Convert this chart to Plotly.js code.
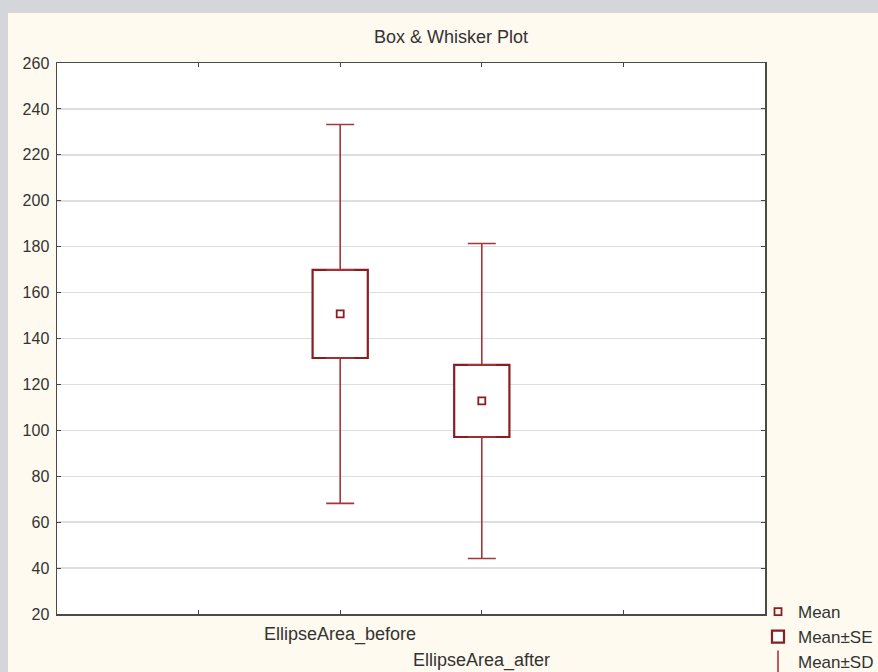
<!DOCTYPE html>
<html><head><meta charset="utf-8">
<script src="https://cdn.plot.ly/plotly-3.0.1.min.js"></script>
<style>html,body{margin:0;padding:0;background:#fffaef;}#chart{width:878px;height:672px;}</style>
</head><body><div id="chart"></div>
<script>
const categories = ['EllipseArea_before', 'EllipseArea_after'];
const xPos = [2, 3];
const means = [150.7, 112.8];
const se = [19.2, 15.7];
const sd = [82.5, 68.6];
const yTicks = [20, 40, 60, 80, 100, 120, 140, 160, 180, 200, 220, 240, 260];

const boxLine = '#8c1d1f';
const whiskerCol = '#a5363a';
const fontFam = 'Liberation Sans, Arial, sans-serif';

const boxTrace = {
  type: 'bar', x: xPos, y: se.map(v => 2 * v), base: means.map((m, i) => m - se[i]),
  width: 0.39, name: 'Mean±SE', legendrank: 2,
  marker: {color: '#ffffff', line: {color: boxLine, width: 2.2}}, hoverinfo: 'skip'
};
const upperWhisker = {
  type: 'scatter', mode: 'markers', x: xPos, y: means.map((m, i) => m + se[i]),
  marker: {size: 1, color: 'rgba(0,0,0,0)'}, showlegend: false, hoverinfo: 'skip',
  error_y: {type: 'data', symmetric: false, array: sd.map((s, i) => s - se[i]), arrayminus: sd.map(() => 0),
    color: whiskerCol, thickness: 1.6, width: 14}
};
const lowerWhisker = {
  type: 'scatter', mode: 'markers', x: xPos, y: means.map((m, i) => m - se[i]),
  marker: {size: 1, color: 'rgba(0,0,0,0)'}, showlegend: false, hoverinfo: 'skip',
  error_y: {type: 'data', symmetric: false, array: sd.map(() => 0), arrayminus: sd.map((s, i) => s - se[i]),
    color: whiskerCol, thickness: 1.6, width: 14}
};
const meanTrace = {
  type: 'scatter', mode: 'markers', x: xPos, y: means, name: 'Mean', legendrank: 1,
  marker: {symbol: 'square-open', size: 7, color: boxLine, line: {width: 1.8, color: boxLine}}
};
const sdLegend = {
  type: 'scatter', mode: 'markers', x: [null], y: [null], name: 'Mean±SD', legendrank: 3,
  marker: {symbol: 'line-ns-open', size: 16, color: whiskerCol, line: {width: 1.6, color: whiskerCol}}
};

const W = 708, H = 551, L = 57, T = 63;
const layout = {
  width: 878, height: 672,
  margin: {l: L, r: 113, t: T, b: 58, autoexpand: false},
  paper_bgcolor: '#fffaef', plot_bgcolor: '#ffffff',
  font: {family: fontFam, size: 16, color: '#333333'},
  title: {text: 'Box & Whisker Plot', x: (451 - L) / W, xref: 'paper', xanchor: 'center',
    y: 1 - 37 / 672, yref: 'container', yanchor: 'middle', font: {family: fontFam, size: 18, color: '#333'}},
  showlegend: true,
  legend: {x: (758 - L) / W, xanchor: 'left', y: 1 - (594 - T) / H, yanchor: 'top',
    bgcolor: 'rgba(0,0,0,0)', font: {family: fontFam, size: 17, color: '#333'},
    traceorder: 'normal', itemclick: false},
  xaxis: {range: [0, 5], tickvals: [1, 2, 3, 4], ticktext: ['', '', '', ''],
    ticks: 'inside', ticklen: 4, tickcolor: '#444', showgrid: false, zeroline: false,
    showline: true, linecolor: '#4a4a4a', linewidth: 1.5, mirror: 'ticks', fixedrange: true},
  yaxis: {range: [20, 260], tickvals: yTicks, ticks: 'inside', ticklen: 4, tickcolor: '#444',
    showgrid: true, gridcolor: '#dedede', gridwidth: 1.5, zeroline: false,
    showline: true, linecolor: '#4a4a4a', linewidth: 1.5, mirror: 'ticks',
    tickfont: {family: fontFam, size: 16, color: '#333'}, ticklabelstandoff: 3, fixedrange: true},
  bargap: 0,
  shapes: [
    {type: 'rect', xref: 'paper', yref: 'paper', x0: -L / W, x1: (8 - L) / W, y0: -58 / H, y1: 1 + T / H,
      fillcolor: '#d4d6d9', line: {width: 0}, layer: 'above'},
    {type: 'rect', xref: 'paper', yref: 'paper', x0: -L / W, x1: 1 + 113 / W, y0: 1 + (T - 13) / H, y1: 1 + T / H,
      fillcolor: '#d4d6d9', line: {width: 0}, layer: 'above'}
  ],
  annotations: [
    {text: categories[0], x: xPos[0], xref: 'x', y: -(634 - 614) / H, yref: 'paper', yanchor: 'middle',
      showarrow: false, font: {family: fontFam, size: 18, color: '#333'}},
    {text: categories[1], x: xPos[1], xref: 'x', y: -(660 - 614) / H, yref: 'paper', yanchor: 'middle',
      showarrow: false, font: {family: fontFam, size: 18, color: '#333'}}
  ]
};

Plotly.newPlot('chart', [boxTrace, upperWhisker, lowerWhisker, meanTrace, sdLegend], layout, {displayModeBar: false, staticPlot: true});
</script></body></html>
